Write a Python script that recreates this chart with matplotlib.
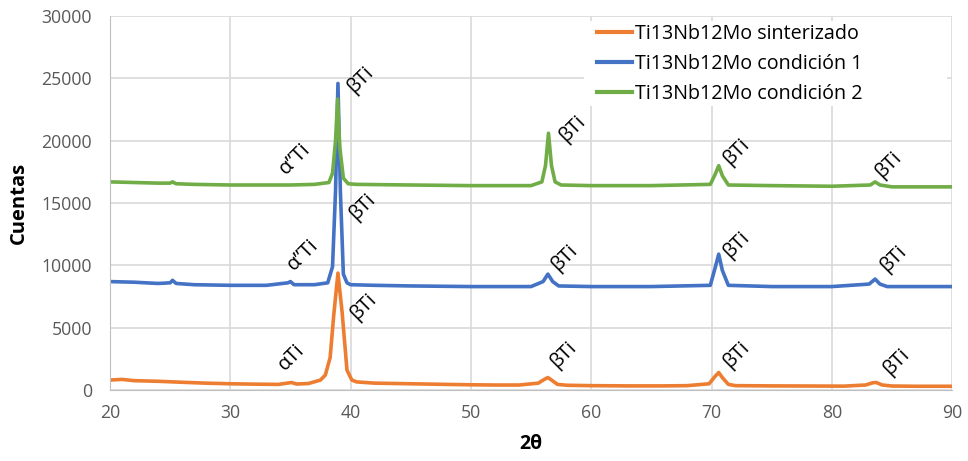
import matplotlib
matplotlib.use("Agg")
import matplotlib.pyplot as plt
from matplotlib.patches import Rectangle

# ---- data ----
labels = ["Ti13Nb12Mo sinterizado", "Ti13Nb12Mo condición 1", "Ti13Nb12Mo condición 2"]
colors = ["#ED7D31", "#4472C4", "#70AD47"]

x_sint = [20, 21, 22, 24, 26, 28, 30, 32, 34, 34.8, 35.1, 35.5, 36.5, 37.5, 37.9, 38.3, 38.6, 38.95,
          39.3, 39.7, 40.1, 40.5, 42, 45, 48, 50, 52, 54, 55.6, 56.1, 56.4, 56.7, 57.2, 58, 60, 63,
          66, 68, 69.8, 70.3, 70.6, 70.9, 71.4, 72, 75, 78, 81, 82.8, 83.4, 83.7, 84.2, 85, 87, 90]
y_sint = [800, 850, 750, 700, 620, 550, 500, 470, 450, 560, 600, 480, 520, 800, 1200, 2600, 6000, 9380,
          6200, 1600, 800, 650, 550, 500, 450, 420, 400, 400, 550, 850, 1000, 800, 450, 380, 350, 330,
          330, 350, 500, 1100, 1400, 1000, 450, 350, 330, 320, 310, 400, 580, 600, 400, 320, 300, 300]

x_c1 = [20, 22, 24, 25.0, 25.2, 25.5, 27, 30, 33, 34.8, 35.0, 35.3, 37, 38.1, 38.5, 38.75, 38.95, 39.15,
        39.4, 39.7, 40, 42, 45, 50, 55, 56.0, 56.4, 56.8, 57.3, 60, 65, 69.9, 70.3, 70.6, 70.9, 71.4,
        75, 80, 83.1, 83.6, 84.0, 84.6, 87, 90]
y_c1 = [8700, 8650, 8550, 8600, 8800, 8550, 8450, 8400, 8400, 8600, 8700, 8450, 8450, 8600, 9900, 16000, 24600, 16000,
        9300, 8600, 8450, 8400, 8350, 8300, 8300, 8700, 9300, 8700, 8350, 8300, 8300, 8400, 9800, 10900, 9600, 8400,
        8300, 8300, 8500, 8900, 8500, 8300, 8300, 8300]

x_c2 = [20, 22, 24, 25.0, 25.2, 25.5, 27, 30, 33, 35, 37, 38.2, 38.5, 38.75, 38.92, 39.1, 39.4, 39.8, 40.5,
        45, 50, 55, 55.9, 56.2, 56.45, 56.7, 57.0, 57.5, 60, 65, 69.9, 70.3, 70.6, 70.9, 71.4, 75, 80,
        83.2, 83.6, 84.0, 85, 90]
y_c2 = [16700, 16650, 16600, 16600, 16700, 16550, 16500, 16450, 16450, 16450, 16500, 16650, 17400, 20000, 23340, 19500, 17000, 16550, 16500,
        16450, 16400, 16400, 16700, 18000, 20600, 18000, 16700, 16450, 16400, 16400, 16500, 17300, 18000, 17200, 16450, 16400, 16350,
        16450, 16700, 16450, 16300, 16300]

# annotations (text centre positions)
ann_text = ["βTi", "α”Ti", "βTi", "α”Ti", "βTi", "αTi",
            "βTi", "βTi", "βTi", "βTi", "βTi", "βTi", "βTi", "βTi", "βTi"]
ann_x = [40.8, 35.4, 40.95, 36.05, 41.1, 35.05,
         58.4, 72.1, 57.8, 72.1, 57.65, 72.1, 84.7, 85.1, 85.4]
ann_y = [24870, 18530, 14680, 10830, 6660, 2650,
         20930, 19090, 10590, 11630, 2810, 2810, 18050, 10510, 2250]

xticks = [20, 30, 40, 50, 60, 70, 80, 90]
yticks = [0, 5000, 10000, 15000, 20000, 25000, 30000]

plt.rcParams['font.family'] = ['Open Sans', 'DejaVu Sans']

fig = plt.figure(figsize=(9.68, 4.61), dpi=100)
ax = fig.add_axes([0.1136, 0.154, 0.87, 0.811])

for xs, ys, c, lab in zip([x_sint, x_c1, x_c2], [y_sint, y_c1, y_c2], colors, labels):
    ax.plot(xs, ys, color=c, lw=2.6, label=lab, solid_joinstyle='round', zorder=2)

for t, xx, yy in zip(ann_text, ann_x, ann_y):
    ax.text(xx, yy, t, rotation=45, fontsize=14.5, color='black', ha='center', va='center',
            rotation_mode='anchor', zorder=4)

ax.set_xlim(20, 90)
ax.set_ylim(0, 30000)
ax.set_xticks(xticks)
ax.set_yticks(yticks)
ax.grid(True, color='#D9D9D9', lw=1.2)
ax.set_axisbelow(True)
for s in ['top', 'right']:
    ax.spines[s].set_visible(False)
for s in ['left', 'bottom']:
    ax.spines[s].set_color('#BFBFBF')
ax.tick_params(axis='both', length=0, labelsize=12.7, colors='#595959')
ax.tick_params(axis='y', pad=13)
ax.tick_params(axis='x', pad=10)
ax.set_xlabel('2θ', fontsize=14, fontweight='bold', labelpad=9)
ax.set_ylabel('Cuentas', fontsize=14.5, fontweight='bold', labelpad=9)

# white legend area covering gridlines
ax.add_patch(Rectangle((0.563, 0.759), 0.431, 0.228, transform=ax.transAxes,
                       facecolor='white', edgecolor='none', zorder=1))

leg = ax.legend(loc='upper left', bbox_to_anchor=(0.578, 0.979), fontsize=14.2, frameon=False,
                handlelength=1.78, handletextpad=0.15, borderaxespad=0, borderpad=0,
                labelspacing=0.5)
for h in leg.get_lines():
    h.set_linewidth(3)

fig.savefig('out.png', dpi=100)
